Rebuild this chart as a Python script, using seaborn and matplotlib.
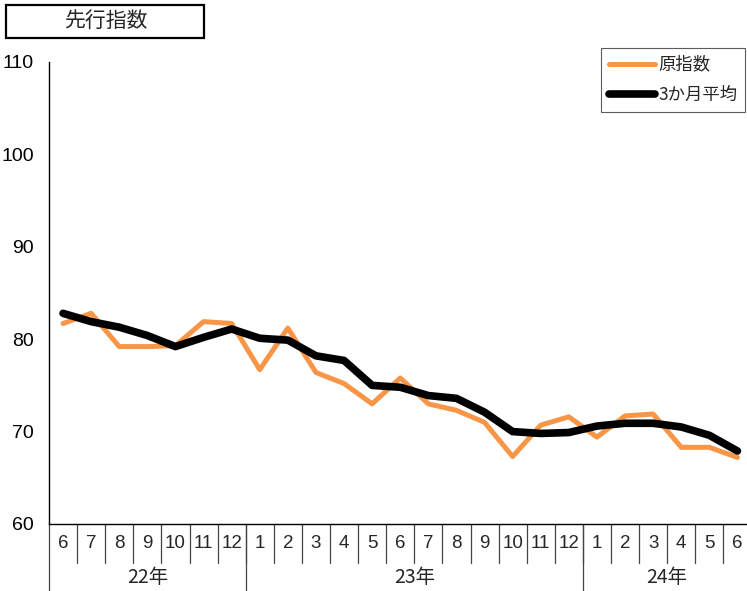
import numpy as np
import pandas as pd
import seaborn as sns
import matplotlib.pyplot as plt
import matplotlib.transforms as mtransforms
from matplotlib.patches import Rectangle

# months shown on the x axis (22年6月 .. 24年6月)
months = [6, 7, 8, 9, 10, 11, 12, 1, 2, 3, 4, 5, 6, 7, 8, 9, 10, 11, 12, 1, 2, 3, 4, 5, 6]
years = ["22年", "23年", "24年"]
year_counts = [7, 12, 6]

# 原指数 (raw index)
raw_index = [81.7, 82.8, 79.2, 79.2, 79.3, 81.9, 81.7, 76.7, 81.2, 76.4, 75.2, 73.0, 75.8,
             73.0, 72.3, 71.0, 67.3, 70.7, 71.6, 69.4, 71.7, 71.9, 68.3, 68.3, 67.2]
# 3か月平均 (3 month average)
avg_index = [82.8, 81.9, 81.3, 80.4, 79.2, 80.2, 81.1, 80.1, 79.9, 78.2, 77.7, 75.0, 74.8,
             73.9, 73.6, 72.1, 70.0, 69.8, 69.9, 70.6, 70.9, 70.9, 70.5, 69.6, 67.9]

sns.set_theme(style="white")
plt.rcParams['font.family'] = ['Noto Sans CJK JP', 'DejaVu Sans']
num_font = ['Liberation Sans', 'DejaVu Sans']

df = pd.DataFrame({"pos": np.arange(len(months)), "raw": raw_index, "avg": avg_index})

fig = plt.figure(figsize=(7.47, 5.91), dpi=100)
ax = fig.add_axes([49 / 747, 67 / 591, 702.5 / 747, 462 / 591])

sns.lineplot(data=df, x="pos", y="raw", ax=ax, color="#F79646", linewidth=3.6, label="原指数")
sns.lineplot(data=df, x="pos", y="avg", ax=ax, color="black", linewidth=5.5, label="3か月平均")

ax.set_xlim(-0.5, len(months) - 0.5)
ax.set_ylim(60, 110)
ax.set_yticks(range(60, 111, 10))
ax.tick_params(axis='y', length=5, width=0.8, direction='in', pad=11, colors='black')
for lab in ax.get_yticklabels():
    lab.set_family(num_font)
    lab.set_fontsize(14)
ax.set_xticks([])
ax.set_xlabel("")
ax.set_ylabel("")
for s in ["top", "right"]:
    ax.spines[s].set_visible(False)
ax.spines["left"].set_color("black")
ax.spines["bottom"].set_color("black")
ax.spines["left"].set_linewidth(1)
ax.spines["bottom"].set_linewidth(1)

# month / year labels under the axis
trans = mtransforms.blended_transform_factory(ax.transData, ax.transAxes)
for i, m in enumerate(months):
    ax.text(i, -0.043, str(m), transform=trans, ha='center', va='center', fontsize=13.5,
            family=num_font)
    if i > 0:
        ax.plot([i - 0.5, i - 0.5], [0, -0.085], transform=trans, color='#444444', lw=0.9, clip_on=False)

start = -0.5
for y, n in zip(years, year_counts):
    ax.text(start + n / 2, -0.115, y, transform=trans, ha='center', va='center', fontsize=14)
    ax.plot([start, start], [0, -0.16], transform=trans, color='#444444', lw=0.9, clip_on=False)
    start += n

# title box
fig.patches.append(Rectangle((6 / 747, 1 - 38 / 591), 198 / 747, 33 / 591, transform=fig.transFigure,
                             fill=False, edgecolor='black', linewidth=1.6))
fig.text(106 / 747, 1 - 21 / 591, "先行指数", ha='center', va='center', fontsize=15)

leg = ax.legend(loc='upper right', bbox_to_anchor=(745 / 747, 1 - 48 / 591),
                bbox_transform=fig.transFigure, frameon=True, fancybox=False,
                fontsize=12.5, handlelength=2.7, handletextpad=0.15, borderpad=0.45,
                labelspacing=0.7, borderaxespad=0)
leg.get_frame().set_edgecolor('#333333')
leg.get_frame().set_linewidth(0.8)

fig.savefig("out.png", dpi=100)
